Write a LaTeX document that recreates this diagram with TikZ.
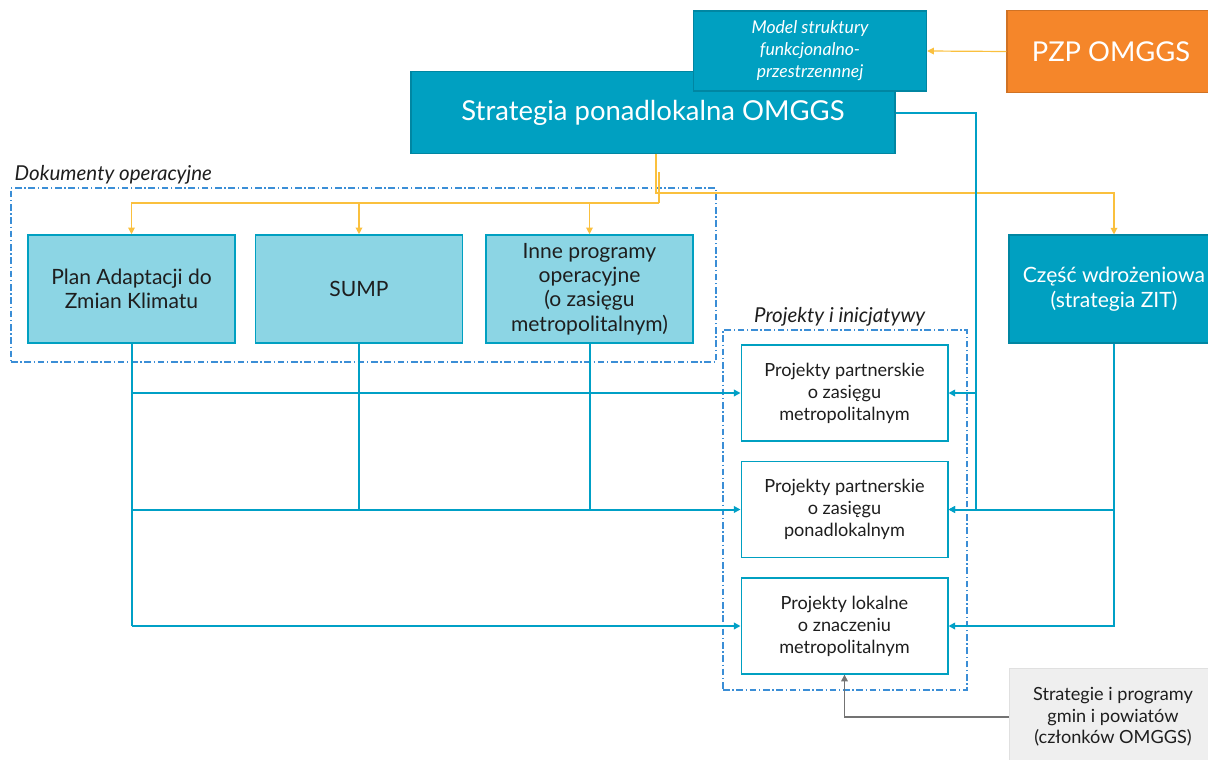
\documentclass[tikz,border=0pt]{standalone}
\usepackage{fontspec}
\setmainfont{Lato}
\usepackage{tikz}
\usetikzlibrary{arrows.meta, positioning}

\definecolor{tealmain}{RGB}{0,160,193}
\definecolor{tealedge}{RGB}{0,134,162}
\definecolor{tealline}{RGB}{0,160,198}
\definecolor{lightop}{RGB}{140,213,228}
\definecolor{orangebox}{RGB}{245,134,42}
\definecolor{orangeline}{RGB}{250,192,62}
\definecolor{dashblue}{RGB}{59,142,214}
\definecolor{greybox}{RGB}{239,239,239}
\definecolor{textdark}{RGB}{30,30,30}

\begin{document}
\begin{tikzpicture}[
			x=0.75pt, y=-0.75pt,
			topbox/.style={rectangle, draw=tealedge, fill=tealmain, line width=0.8pt, text=white, align=center, inner sep=2pt},
			opbox/.style={rectangle, draw=tealmain, fill=lightop, line width=1.2pt, text=textdark, align=center, font=\fontsize{15.8}{18.3}\selectfont, minimum width=155pt, minimum height=81pt},
			projbox/.style={rectangle, draw=tealmain, fill=white, line width=1pt, text=textdark, align=center, font=\fontsize{13.6}{16.5}\selectfont, minimum width=155pt, minimum height=72pt},
			groupbox/.style={rectangle, draw=dashblue, line width=0.8pt, dash pattern=on 5pt off 2pt on 1pt off 2pt},
			grouplabel/.style={font=\itshape\fontsize{15.4}{18}\selectfont, text=textdark, inner sep=1pt},
			link/.style={-{Triangle[length=5pt,width=5pt]}, draw=tealline, line width=1.5pt},
			plain/.style={draw=tealline, line width=1.5pt},
			feed/.style={-{Triangle[length=5pt,width=5pt]}, draw=orangeline, line width=0.9pt}
			]
			\useasboundingbox (0,0) rectangle (1208,760);
			
			% ---------------- TOP ----------------
			\node[topbox, minimum width=363pt, minimum height=61pt, font=\fontsize{20.6}{24}\selectfont] (strat) at (653,112.5) {Strategia ponadlokalna OMGGS};
			\node[topbox, minimum width=175pt, minimum height=60pt, font=\itshape\fontsize{13.2}{16.5}\selectfont] (model) at (810,51) {Model struktury\\funkcjonalno-\\przestrzennnej};
			\node[topbox, draw=orangebox!85!black, fill=orangebox, minimum width=156pt, minimum height=61pt, font=\fontsize{20.5}{24}\selectfont] (pzp) at (1111,51.5) {PZP OMGGS};
			
			\draw[feed] (pzp.west) -- (model.east);
			
			% ---------------- DOKUMENTY OPERACYJNE ----------------
			\node[groupbox, minimum width=528.75pt, minimum height=130.5pt] (dokbox) at (363.5,275) {};
			\node[grouplabel, above right=1pt and 2pt of dokbox.north west, anchor=south west] (doklabel) {Dokumenty operacyjne};
			
			\node[opbox] (plan) at (131.5,289) {Plan Adaptacji do\\Zmian Klimatu};
			\node[opbox] (sump) at (359,289) {SUMP};
			\node[opbox] (inne) at (589.5,289) {Inne programy\\operacyjne\\(o zasięgu\\metropolitalnym)};
			
			\node[topbox, minimum width=157.5pt, minimum height=81pt, font=\fontsize{15.8}{18.3}\selectfont] (czesc) at (1114,289) {Część wdrożeniowa\\(strategia ZIT)};
			
			% orange feeds
			\coordinate (oa) at (656,193);
			\coordinate (ob) at (659,203);
			\coordinate (oc) at (659,172);
			\draw[feed] (strat.south -| oa) -- (oa) -| (czesc.north);
			\draw[draw=orangeline, line width=0.9pt] (oc) -- (ob);
			\draw[feed] (ob) -| (plan.north);
			\draw[feed] (ob) -| (sump.north);
			\draw[feed] (ob) -| (inne.north);
			
			% ---------------- PROJEKTY I INICJATYWY ----------------
			\node[groupbox, minimum width=183pt, minimum height=270pt] (projbox) at (845,510) {};
			\node[grouplabel, above=1pt of projbox.north, xshift=-4pt] (projlabel) {Projekty i inicjatywy};
			
			\node[projbox] (p1) at (844.5,393) {Projekty partnerskie\\o zasięgu\\metropolitalnym};
			\node[projbox] (p2) at (844.5,509.5) {Projekty partnerskie\\o zasięgu\\ponadlokalnym};
			\node[projbox] (p3) at (844.5,626) {Projekty lokalne\\o znaczeniu\\metropolitalnym};
			
			\node[rectangle, draw=black!12, fill=greybox, text=textdark, align=center, font=\fontsize{13.6}{16}\selectfont, minimum width=156pt, minimum height=73pt] (gmin) at (1113,717) {Strategie i programy\\gmin i powiatów\\(członków OMGGS)};
			
			% ---------------- CONNECTIONS ----------------
			\draw[plain] (plan.south) -- (plan.south |- p3.west);
			\draw[link] (plan.south |- p1.west) -- (p1.west);
			\draw[link] (plan.south |- p2.west) -- (p2.west);
			\draw[link] (plan.south |- p3.west) -- (p3.west);
			\draw[plain] (sump.south) -- (sump.south |- p2.west);
			\draw[plain] (inne.south) -- (inne.south |- p2.west);
			
			\coordinate (sr) at (976,0);
			\draw[plain] (strat.east) -| (sr |- p2.east);
			\draw[link] (sr |- p1.east) -- (p1.east);
			\draw[link] (sr |- p2.east) -- (p2.east);
			
			\draw[link] (czesc.south) |- (p3.east);
			\draw[link] (czesc.south |- p2.east) -- (p2.east);
			
			\draw[-{Triangle[length=5pt,width=5pt]}, draw=black!55, line width=0.9pt] (gmin.west) -| (p3.south);
			
		\end{tikzpicture}
\end{document}
